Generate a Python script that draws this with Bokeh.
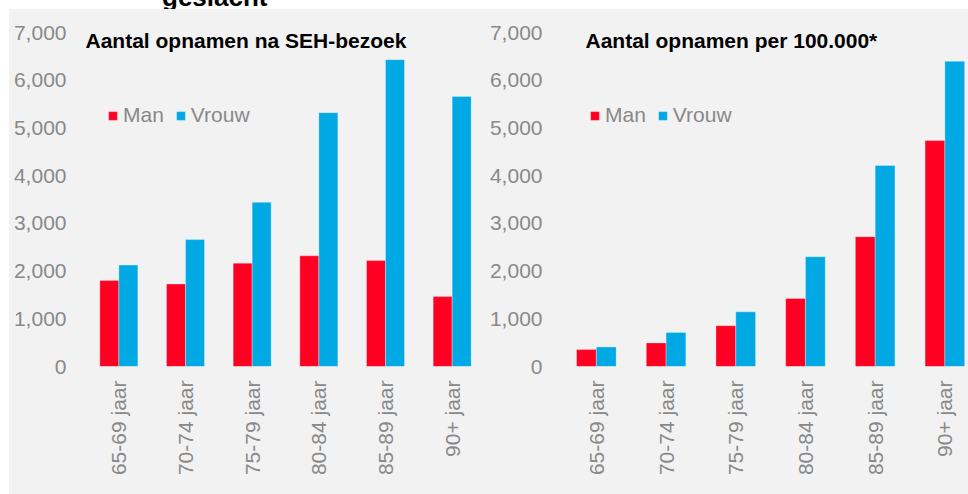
import math
from bokeh.plotting import figure
from bokeh.layouts import row, column
from bokeh.models import (Range1d, FixedTicker, NumeralTickFormatter, Label, Legend,
                          LegendItem, ColumnDataSource, Div, Spacer)
from bokeh.transform import dodge
from bokeh.embed import file_html
from bokeh.resources import INLINE

# ---- data ----
categories = ["65-69 jaar", "70-74 jaar", "75-79 jaar", "80-84 jaar", "85-89 jaar", "90+ jaar"]
seh_man = [1800, 1730, 2165, 2320, 2220, 1465]
seh_vrouw = [2125, 2660, 3440, 5320, 6430, 5660]
rate_man = [355, 495, 855, 1425, 2720, 4735]
rate_vrouw = [410, 715, 1145, 2300, 4215, 6395]
y_ticks = [0, 1000, 2000, 3000, 4000, 5000, 6000, 7000]
series_labels = ["Man", "Vrouw"]
titles = ["Aantal opnamen na SEH-bezoek", "Aantal opnamen per 100.000*"]
main_title_tail = "geslacht"

BG = "#f2f2f2"
RED = "#ff0022"
BLUE = "#00a9e4"
GRAY = "#898989"
FONT = "Liberation Sans"


def panel(title, man, vrouw, x_end, bar_w, border_left, frame_w, title_x, legend_x):
    src = ColumnDataSource(dict(x=list(range(len(categories))), man=man, vrouw=vrouw))
    p = figure(output_backend="svg", toolbar_location=None,
               frame_width=frame_w, frame_height=334,
               x_range=Range1d(-0.5, x_end), y_range=Range1d(0, 7000),
               min_border_left=border_left, min_border_right=0,
               min_border_top=23, min_border_bottom=128,
               background_fill_color=BG, border_fill_color=BG,
               outline_line_color=None)
    r1 = p.vbar(x=dodge("x", -bar_w / 2), top="man", width=bar_w, source=src,
                fill_color=RED, line_color="white", line_alpha=0.3, line_width=1)
    r2 = p.vbar(x=dodge("x", bar_w / 2), top="vrouw", width=bar_w, source=src,
                fill_color=BLUE, line_color="white", line_alpha=0.3, line_width=1)

    p.xgrid.visible = False
    p.ygrid.visible = False

    xa = p.xaxis[0]
    xa.ticker = FixedTicker(ticks=list(range(len(categories))))
    xa.major_label_overrides = {i: c for i, c in enumerate(categories)}
    xa.major_label_orientation = math.pi / 2
    xa.axis_line_color = None
    xa.major_tick_line_color = None
    xa.minor_tick_line_color = None
    xa.major_tick_out = 0
    xa.major_tick_in = 0
    xa.major_label_standoff = 14
    xa.major_label_text_font = FONT
    xa.major_label_text_font_size = "21px"
    xa.major_label_text_color = GRAY

    ya = p.yaxis[0]
    ya.ticker = FixedTicker(ticks=y_ticks)
    ya.formatter = NumeralTickFormatter(format="0,0")
    ya.axis_line_color = None
    ya.major_tick_line_color = None
    ya.minor_tick_line_color = None
    ya.major_tick_out = 0
    ya.major_tick_in = 0
    ya.major_label_standoff = 19
    ya.major_label_text_font = FONT
    ya.major_label_text_font_size = "21px"
    ya.major_label_text_color = GRAY

    legend = Legend(items=[LegendItem(label=series_labels[0], renderers=[r1]),
                           LegendItem(label=series_labels[1], renderers=[r2])],
                    orientation="horizontal", location=(legend_x, 239),
                    glyph_width=11, glyph_height=11, label_standoff=5, spacing=11,
                    padding=0, margin=0, border_line_color=None,
                    background_fill_alpha=0,
                    label_text_font=FONT, label_text_font_size="21px",
                    label_text_color=GRAY)
    p.add_layout(legend)

    p.add_layout(Label(x=title_x, y=326, x_units="screen", y_units="screen",
                       text=title, text_font=FONT, text_font_size="21px",
                       text_font_style="bold", text_color="black",
                       text_baseline="alphabetic"))
    return p


p1 = panel(titles[0], seh_man, seh_vrouw, 5.5, 0.285, 76, 400, 0, 22)
p2 = panel(titles[1], rate_man, rate_vrouw, 5.339, 0.284, 76, 407, 24, 28)

top = Div(text=("<div style=\"position:relative; top:-16px; margin-left:162px; "
                "font-family:'Liberation Sans'; font-weight:bold; font-size:26px; "
                "line-height:26px; white-space:nowrap; color:#000;\">"
                + main_title_tail + "</div>"),
          width=968, height=9, styles={"overflow": "hidden", "margin": "0", "padding": "0"})

panels = row(p1, p2, spacing=0, styles={"background-color": BG})
layout = column(top, row(Spacer(width=9, height=485), panels, spacing=0), spacing=0)
open("out.html", "w").write(file_html(layout, INLINE))
